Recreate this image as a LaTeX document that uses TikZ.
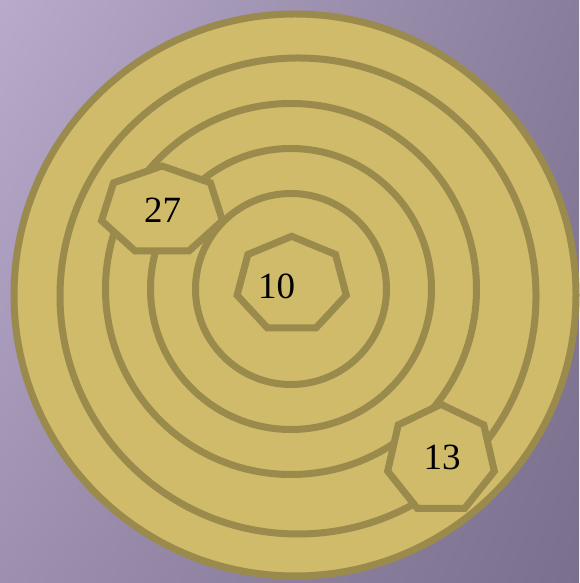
\documentclass[tikz,border=0pt]{standalone}
\usepackage{fontspec}
\setmainfont{Liberation Serif}
\usepackage{tikz}
\usetikzlibrary{positioning,calc,shadings}
\usepackage{xcolor}

\definecolor{bgUL}{HTML}{B8AACB}
\definecolor{bgUR}{HTML}{887D9A}
\definecolor{bgLL}{HTML}{9D8FAE}
\definecolor{bgLR}{HTML}{7A708E}
\definecolor{disc}{HTML}{CFBB6A}
\definecolor{ringc}{HTML}{9A8A4C}

\tikzset{
  ring/.style={draw=ringc, line width=7pt},
  hepta/.style={draw=ringc, fill=disc, line width=7pt, line join=miter},
  numlabel/.style={font=\fontsize{37}{40}\selectfont, text=black, inner sep=0pt}
}

\begin{document}
\begin{tikzpicture}[x=1pt, y=1pt]
            \useasboundingbox (0,0) rectangle (579,583);
            % Background
            \shade[upper left=bgUL, upper right=bgUR, lower left=bgLL, lower right=bgLR] (0,0) rectangle (579,583);
            % Disc
            \coordinate (outc) at (295,288);
            \coordinate (midc) at (291,294);
            \coordinate (ring4c) at (298,287);
            \fill[disc] (outc) circle (281);
            \draw[ring] (outc) circle (281);
            % Rings
            \foreach \r in {95.5,140.5,185.5}
                \draw[ring] (midc) circle (\r);
            \draw[ring] (ring4c) circle (238);
            % Heptagons
            \coordinate (c10) at (291.7,298.5);
            \coordinate (c27) at (162,372.3);
            \coordinate (c13) at (441,124);
            \draw[hepta, shift={(c10)}] (90:56 and 48.2) \foreach \k in {1,...,6}{ -- (90+\k*360/7:56 and 48.2)} -- cycle;
            \draw[hepta, shift={(c27)}] (90:62 and 44.7) \foreach \k in {1,...,6}{ -- (90+\k*360/7:62 and 44.7)} -- cycle;
            \draw[hepta, shift={(c13)}] (90:54.7 and 54.7) \foreach \k in {1,...,6}{ -- (90+\k*360/7:54.7 and 54.7)} -- cycle;
            % Labels
            \node[numlabel] (n10) at (276.5,297) {10};
            \node[numlabel] (n27) at (162.5,372.5) {27};
            \node[numlabel] (n13) at (442,125.5) {13};
        \end{tikzpicture}
\end{document}
